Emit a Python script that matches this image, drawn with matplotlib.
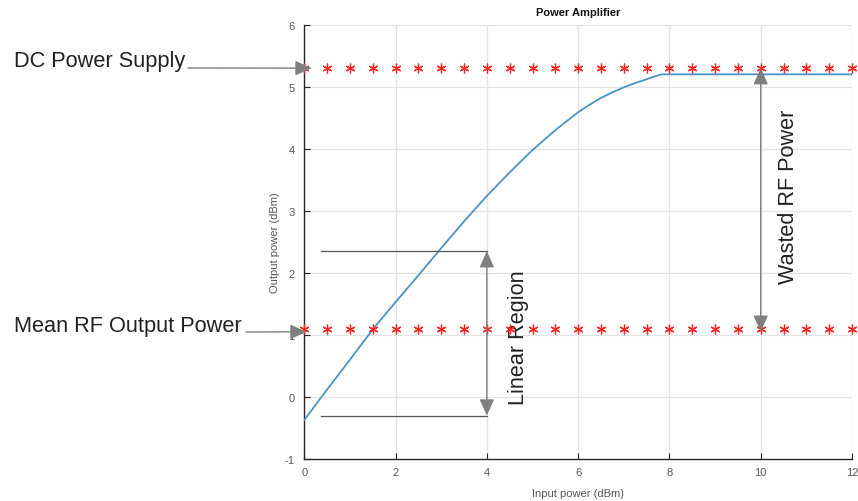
import matplotlib
matplotlib.use("Agg")
import matplotlib.pyplot as plt
import numpy as np

plt.rcParams['font.family'] = ['Liberation Sans', 'DejaVu Sans']
plt.rcParams['axes.unicode_minus'] = False

# Amplifier transfer curve (input dBm -> output dBm)
input_power = [0.0, 0.5, 1.0, 1.5, 2.0, 2.5, 3.0, 3.5, 4.0, 4.5, 5.0,
               5.5, 6.0, 6.25, 6.5, 6.75, 7.0, 7.25, 7.5, 7.65, 7.83,
               8.0, 9.0, 10.0, 11.0, 12.0]
output_power = [-0.37, 0.12, 0.60, 1.09, 1.53, 1.96, 2.40, 2.83, 3.24, 3.62, 3.98,
                4.30, 4.59, 4.71, 4.82, 4.91, 4.99, 5.06, 5.12, 5.16, 5.20,
                5.20, 5.20, 5.20, 5.20, 5.20]

# Reference levels drawn as asterisk rows
star_x = np.arange(0, 12.01, 0.5)
dc_supply_level = 5.3
mean_rf_level = 1.1

# Linear region bounds and arrow positions
linear_low, linear_high = -0.30, 2.35
linear_x = 4.0
wasted_x = 10.0

x_ticks = [0, 2, 4, 6, 8, 10, 12]
y_ticks = [-1, 0, 1, 2, 3, 4, 5, 6]

W, H = 858, 502
fig = plt.figure(figsize=(W / 100, H / 100), dpi=100)
ax = fig.add_axes([304.3 / W, 1 - 460 / H, (852 - 304.3) / W, (460 - 25.7) / H])

ax.set_xlim(0, 12)
ax.set_ylim(-1, 6)
ax.set_xticks(x_ticks)
ax.set_yticks(y_ticks)
ax.grid(True, color='#e3e3e3', linewidth=0.9)
ax.set_axisbelow(True)
for s in ['top', 'right']:
    ax.spines[s].set_visible(False)
for s in ['left', 'bottom']:
    ax.spines[s].set_color('#262626')
    ax.spines[s].set_linewidth(1.0)
ax.tick_params(direction='in', length=4, width=0.8, color='#262626',
               labelsize=8, labelcolor='#555555')
ax.tick_params(axis='y', pad=7)
ax.tick_params(axis='x', pad=6)

ax.plot(input_power, output_power, color='#4a94c4', linewidth=1.3, zorder=3)
asterisk = (6, 2, 0)
for level in (dc_supply_level, mean_rf_level):
    ax.plot(star_x, [level] * len(star_x), linestyle='none', marker=asterisk,
            color='#ff2020', markersize=7, markeredgewidth=0.9, zorder=4, clip_on=False)

ax.set_title('Power Amplifier', fontsize=8, fontweight='bold', color='#111111', pad=7)
ax.set_xlabel('Input power (dBm)', fontsize=8, color='#555555', labelpad=8)
ax.set_ylabel('Output power (dBm)', fontsize=8, color='#555555', labelpad=3)

arrow_gray = '#7f7f7f'
head = dict(arrowstyle='-|>,head_length=1.0,head_width=0.45', color=arrow_gray,
            linewidth=1.0, shrinkA=0, shrinkB=0)
dbl = dict(arrowstyle='<|-|>,head_length=1.0,head_width=0.45', color=arrow_gray,
           linewidth=1.0, shrinkA=0, shrinkB=0)

# Linear region bracket
ax.plot([0.36, linear_x], [linear_high, linear_high], color='#555555', linewidth=0.9, zorder=5)
ax.plot([0.36, linear_x], [linear_low, linear_low], color='#555555', linewidth=0.9, zorder=5)
ax.annotate('', xy=(linear_x, linear_high), xytext=(linear_x, linear_low),
            arrowprops=dbl, zorder=6)
ax.text(4.7, (linear_low + linear_high) / 2 - 0.05, 'Linear Region', rotation=90,
        fontsize=15.6, color='#222222', ha='center', va='center')

# Wasted power span
ax.annotate('', xy=(wasted_x, dc_supply_level), xytext=(wasted_x, mean_rf_level - 0.05),
            arrowprops=dbl, zorder=6)
ax.text(10.6, 3.25, 'Wasted RF Power', rotation=90,
        fontsize=15.6, color='#222222', ha='center', va='center')

# Side labels pointing to the reference levels
fig.text(14 / W, 1 - 62 / H, 'DC Power Supply', fontsize=15.7, color='#222222',
         ha='left', va='center')
ax.annotate('', xy=(0.16, dc_supply_level), xycoords='data',
            xytext=(188 / W, 1 - 69 / H), textcoords='figure fraction',
            arrowprops=head, annotation_clip=False, zorder=7)

fig.text(14 / W, 1 - 327 / H, 'Mean RF Output Power', fontsize=15.7, color='#222222',
         ha='left', va='center')
ax.annotate('', xy=(0.05, 1.05), xycoords='data',
            xytext=(246 / W, 1 - 333 / H), textcoords='figure fraction',
            arrowprops=head, annotation_clip=False, zorder=7)

fig.savefig('out.png', dpi=100)
